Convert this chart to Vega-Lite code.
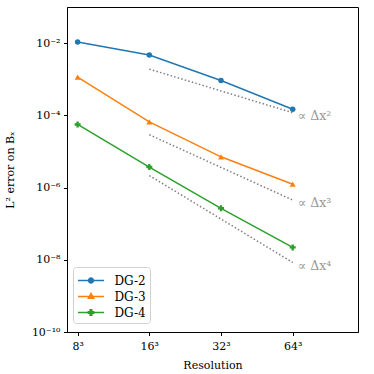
{
  "$schema": "https://vega.github.io/schema/vega-lite/v6.json",
  "width": 291,
  "height": 325,
  "autosize": "none",
  "padding": {"left": 67, "top": 7, "right": 16, "bottom": 42},
  "background": "white",
  "config": {
    "font": "DejaVu Serif",
    "view": {"stroke": "black", "strokeWidth": 1},
    "axis": {
      "grid": false,
      "domainColor": "black",
      "tickColor": "black",
      "tickSize": 3.5,
      "labelColor": "black",
      "titleColor": "black",
      "labelFont": "DejaVu Serif",
      "titleFont": "DejaVu Serif",
      "labelFontSize": 11,
      "titleFontSize": 11,
      "titleFontWeight": "normal"
    }
  },
  "datasets": {
    "series": [
      {"series": "DG-2", "res": 8, "err": 0.0107},
      {"series": "DG-2", "res": 16, "err": 0.0047},
      {"series": "DG-2", "res": 32, "err": 0.00092},
      {"series": "DG-2", "res": 64, "err": 0.000148},
      {"series": "DG-3", "res": 8, "err": 0.00114},
      {"series": "DG-3", "res": 16, "err": 0.000066},
      {"series": "DG-3", "res": 32, "err": 0.0000071},
      {"series": "DG-3", "res": 64, "err": 0.00000124},
      {"series": "DG-4", "res": 8, "err": 0.000056},
      {"series": "DG-4", "res": 16, "err": 0.0000037},
      {"series": "DG-4", "res": 32, "err": 0.000000266},
      {"series": "DG-4", "res": 64, "err": 0.000000022}
    ],
    "refs": [
      {"ref": "2", "res": 16, "err": 0.0019},
      {"ref": "2", "res": 64, "err": 0.000118},
      {"ref": "3", "res": 16, "err": 0.000029},
      {"ref": "3", "res": 64, "err": 0.00000045},
      {"ref": "4", "res": 16, "err": 0.00000215},
      {"ref": "4", "res": 64, "err": 0.0000000084}
    ],
    "labels": [
      {"label": "∝ Δx²", "res": 64, "err": 0.000118},
      {"label": "∝ Δx³", "res": 64, "err": 0.00000045},
      {"label": "∝ Δx⁴", "res": 64, "err": 0.0000000084}
    ]
  },
  "encoding": {
    "x": {
      "field": "res",
      "type": "quantitative",
      "scale": {"type": "log", "base": 2, "domain": [7.22, 120.3], "nice": false},
      "axis": {
        "title": "Resolution",
        "values": [8, 16, 32, 64],
        "labelExpr": "datum.value + '³'",
        "labelPadding": 5,
        "titlePadding": 8
      }
    },
    "y": {
      "field": "err",
      "type": "quantitative",
      "scale": {"type": "log", "domain": [1e-10, 0.1], "nice": false},
      "axis": {
        "title": "L² error on Bₓ",
        "values": [1e-10, 1e-8, 1e-6, 1e-4, 1e-2],
        "labelExpr": "datum.value < 1e-9 ? '10⁻¹⁰' : datum.value < 1e-7 ? '10⁻⁸' : datum.value < 1e-5 ? '10⁻⁶' : datum.value < 1e-3 ? '10⁻⁴' : '10⁻²'",
        "labelPadding": 3.5,
        "titlePadding": 16
      }
    }
  },
  "layer": [
    {
      "data": {"name": "refs"},
      "mark": {"type": "line", "color": "#7f7f7f", "strokeWidth": 1.5, "strokeDash": [1.5, 2.2]},
      "encoding": {"detail": {"field": "ref"}}
    },
    {
      "data": {"name": "labels"},
      "mark": {"type": "text", "align": "left", "baseline": "middle", "dx": 5, "dy": 3, "color": "#9a9a9a", "fontSize": 12.5, "font": "DejaVu Serif"},
      "encoding": {"text": {"field": "label"}}
    },
    {
      "data": {"name": "series"},
      "mark": {"type": "line", "strokeWidth": 1.5},
      "encoding": {
        "color": {
          "field": "series",
          "type": "nominal",
          "scale": {"domain": ["DG-2", "DG-3", "DG-4"], "range": ["#1f77b4", "#ff7f0e", "#2ca02c"]},
          "legend": {
            "title": null,
            "orient": "none",
            "legendX": 6,
            "legendY": 260,
            "fillColor": "white",
            "strokeColor": "#d0d0d0",
            "cornerRadius": 3,
            "padding": 4,
            "symbolSize": 289,
            "symbolOffset": 4.5,
            "symbolStrokeWidth": 1.5,
            "symbolOpacity": 1,
            "labelFont": "DejaVu Serif",
            "labelFontSize": 12,
            "labelColor": "black",
            "labelOffset": 14,
            "rowPadding": 0,
            "encode": {
              "symbols": {
                "update": {
                  "shape": {"signal": "datum.value == 'DG-2' ? 'M-1.53,0H1.53M0.28,0A0.28,0.28,0,1,1,-0.28,0A0.28,0.28,0,1,1,0.28,0Z' : datum.value == 'DG-3' ? 'M-1.53,0H1.53M0,-0.36L0.31,0.2L-0.31,0.2Z' : 'M-1.53,0H1.53M-0.1,-0.31H0.1V-0.1H0.31V0.1H0.1V0.31H-0.1V0.1H-0.31V-0.1H-0.1Z'"},
                  "fill": {"signal": "scale('color', datum.value)"},
                  "stroke": {"signal": "scale('color', datum.value)"},
                  "fillOpacity": {"value": 1},
                  "strokeWidth": {"value": 1.5}
                }
              }
            }
          }
        }
      }
    },
    {
      "data": {"name": "series"},
      "transform": [{"filter": "datum.series == 'DG-2'"}],
      "mark": {"type": "point", "filled": true, "opacity": 1, "size": 30, "shape": "circle"},
      "encoding": {"color": {"field": "series", "type": "nominal"}}
    },
    {
      "data": {"name": "series"},
      "transform": [{"filter": "datum.series == 'DG-3'"}],
      "mark": {"type": "point", "filled": true, "opacity": 1, "size": 36, "shape": "triangle-up"},
      "encoding": {"color": {"field": "series", "type": "nominal"}}
    },
    {
      "data": {"name": "series"},
      "transform": [{"filter": "datum.series == 'DG-4'"}],
      "mark": {"type": "point", "filled": true, "opacity": 1, "size": 36, "shape": "cross"},
      "encoding": {"color": {"field": "series", "type": "nominal"}}
    }
  ]
}
